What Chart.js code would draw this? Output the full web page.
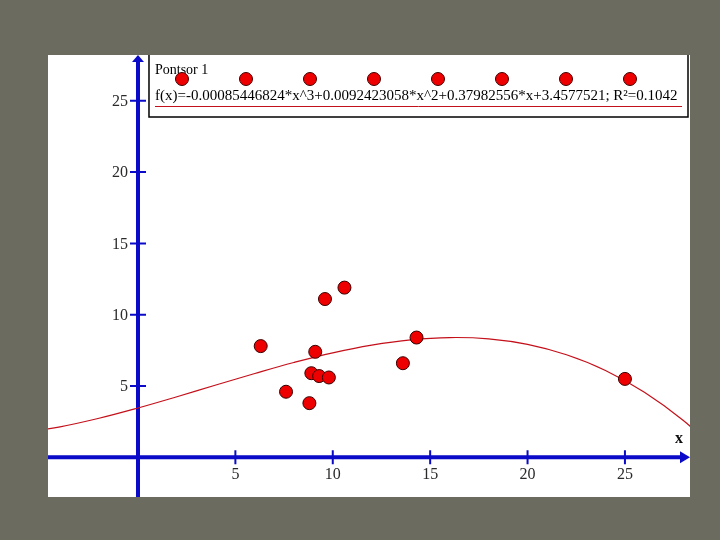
<!DOCTYPE html>
<html>
<head>
<meta charset="utf-8">
<script src="https://cdn.jsdelivr.net/npm/chart.js"></script>
<style>
  html, body { margin: 0; padding: 0; background: #6b6b5f; }
  #wrap { width: 720px; height: 540px; }
</style>
</head>
<body>
<div id="wrap"><canvas id="c" width="720" height="540"></canvas></div>
<script>
const pointX = [6.3, 7.6, 8.8, 8.9, 9.1, 9.3, 9.8, 9.6, 10.6, 13.6, 14.3, 25.0];
const pointY = [7.8, 4.6, 3.8, 5.9, 7.4, 5.7, 5.6, 11.1, 11.9, 6.6, 8.4, 5.5];

// fitted cubic, sampled along the drawn red curve
const curveX = [-6, -4, -2, 0, 2, 4, 6, 8, 10, 12, 14, 16, 18, 20, 22, 24, 26, 28, 30];
const curveY = [1.70, 2.14, 2.74, 3.46, 4.25, 5.07, 5.88, 6.65, 7.33, 7.87, 8.24, 8.40, 8.31, 7.92, 7.19, 6.09, 4.56, 2.58, 0.10];

const xTicks = [5, 10, 15, 20, 25];
const yTicks = [5, 10, 15, 20, 25];

const legendTitle = "Pontsor 1";
const legendFormula = "f(x)=-0.00085446824*x^3+0.0092423058*x^2+0.37982556*x+3.4577521; R\u00b2=0.1042";

const AXIS = "#0a0ac8";
const RED = "#ee0000";
const CURVE = "#c4101a";
const SERIF = "'Liberation Serif', 'DejaVu Serif', serif";
const LABEL = "#2a2a2a";

const pts = pointX.map((x, i) => ({ x: x, y: pointY[i] }));
const curve = curveX.map((x, i) => ({ x: x, y: curveY[i] }));

const paperPlugin = {
  id: "paper",
  beforeDraw(chart) {
    const { ctx, chartArea: a } = chart;
    ctx.save();
    ctx.fillStyle = "#6b6b5f";
    ctx.fillRect(0, 0, chart.width, chart.height);
    ctx.fillStyle = "#ffffff";
    ctx.fillRect(a.left, a.top, a.right - a.left, a.bottom - a.top);
    ctx.restore();
  }
};

const axesPlugin = {
  id: "axesCross",
  beforeDatasetsDraw(chart) {
    const { ctx, chartArea: a, scales } = chart;
    const x0 = scales.x.getPixelForValue(0);
    const y0 = scales.y.getPixelForValue(0);
    ctx.save();
    ctx.strokeStyle = AXIS;
    ctx.fillStyle = AXIS;
    ctx.lineWidth = 4;
    ctx.beginPath();
    ctx.moveTo(a.left, y0); ctx.lineTo(a.right - 8, y0);
    ctx.moveTo(x0, a.bottom); ctx.lineTo(x0, a.top + 6);
    ctx.stroke();
    // arrows
    ctx.beginPath();
    ctx.moveTo(a.right, y0); ctx.lineTo(a.right - 10, y0 - 6); ctx.lineTo(a.right - 10, y0 + 6);
    ctx.closePath(); ctx.fill();
    ctx.beginPath();
    ctx.moveTo(x0, a.top); ctx.lineTo(x0 - 6, a.top + 7); ctx.lineTo(x0 + 6, a.top + 7);
    ctx.closePath(); ctx.fill();
    // tick marks crossing the axes
    ctx.lineWidth = 2;
    ctx.beginPath();
    xTicks.forEach(v => {
      const px = scales.x.getPixelForValue(v);
      ctx.moveTo(px, y0 - 7); ctx.lineTo(px, y0 + 7);
    });
    yTicks.forEach(v => {
      const py = scales.y.getPixelForValue(v);
      ctx.moveTo(x0 - 8, py); ctx.lineTo(x0 + 8, py);
    });
    ctx.stroke();
    // y tick labels sit left of the tick marks
    ctx.fillStyle = LABEL;
    ctx.font = "16px " + SERIF;
    ctx.textAlign = "right";
    ctx.textBaseline = "middle";
    yTicks.forEach(v => {
      ctx.fillText(String(v), x0 - 10, scales.y.getPixelForValue(v) + 1);
    });
    // axis name
    ctx.fillStyle = "#111";
    ctx.font = "bold 16px " + SERIF;
    ctx.textAlign = "center";
    ctx.fillText("x", a.right - 11, y0 - 18);
    ctx.restore();
  }
};

const legendPlugin = {
  id: "fitLegend",
  afterDraw(chart) {
    const { ctx, chartArea: a, scales } = chart;
    const left = scales.x.getPixelForValue(0) + 11;
    const right = a.right - 2;
    const top = a.top - 3;
    const bottom = a.top + 62;
    ctx.save();
    ctx.beginPath();
    ctx.rect(a.left, a.top, a.right - a.left, a.bottom - a.top);
    ctx.clip();
    ctx.fillStyle = "#ffffff";
    ctx.fillRect(left, top, right - left, bottom - top);
    ctx.strokeStyle = "#000";
    ctx.lineWidth = 1.5;
    ctx.strokeRect(left, top, right - left, bottom - top);

    ctx.fillStyle = "#000";
    ctx.font = "14px " + SERIF;
    ctx.textAlign = "left";
    ctx.textBaseline = "middle";
    ctx.fillText(legendTitle, left + 6, a.top + 15);

    // marker row
    ctx.fillStyle = RED;
    ctx.strokeStyle = "#400";
    ctx.lineWidth = 1;
    for (let i = 0; i < 8; i++) {
      const cx = left + 33 + i * 64;
      ctx.beginPath();
      ctx.arc(cx, a.top + 24, 6.5, 0, Math.PI * 2);
      ctx.fill(); ctx.stroke();
    }

    ctx.fillStyle = "#000";
    ctx.font = "15px " + SERIF;
    ctx.fillText(legendFormula, left + 6, a.top + 41, right - left - 13);

    ctx.strokeStyle = CURVE;
    ctx.lineWidth = 1;
    ctx.beginPath();
    ctx.moveTo(left + 6, a.top + 51.5);
    ctx.lineTo(right - 6, a.top + 51.5);
    ctx.stroke();
    ctx.restore();
  }
};

new Chart(document.getElementById("c"), {
  type: "scatter",
  data: {
    datasets: [
      {
        label: "Pontsor 1",
        data: pts,
        backgroundColor: RED,
        borderColor: "#3a0000",
        borderWidth: 1,
        pointRadius: 6.5,
        pointHoverRadius: 6.5
      },
      {
        label: "f(x)",
        type: "line",
        data: curve,
        showLine: true,
        borderColor: CURVE,
        borderWidth: 1.2,
        pointRadius: 0,
        tension: 0.4,
        fill: false
      }
    ]
  },
  options: {
    responsive: false,
    animation: false,
    layout: { padding: { left: 48, top: 55, right: 30, bottom: 43 } },
    plugins: {
      legend: { display: false },
      tooltip: { enabled: false },
      title: { display: false }
    },
    scales: {
      x: {
        type: "linear",
        min: -4.62,
        max: 28.34,
        position: { y: 0 },
        afterBuildTicks: s => { s.ticks = xTicks.map(v => ({ value: v })); },
        grid: { display: false },
        border: { display: false },
        ticks: {
          color: LABEL,
          font: { family: SERIF, size: 16 },
          padding: 0
        }
      },
      y: {
        type: "linear",
        min: -2.78,
        max: 28.21,
        position: { x: 0 },
        afterBuildTicks: s => { s.ticks = yTicks.map(v => ({ value: v })); },
        grid: { display: false },
        border: { display: false },
        ticks: { display: false }
      }
    }
  },
  plugins: [paperPlugin, axesPlugin, legendPlugin]
});
</script>
</body>
</html>
